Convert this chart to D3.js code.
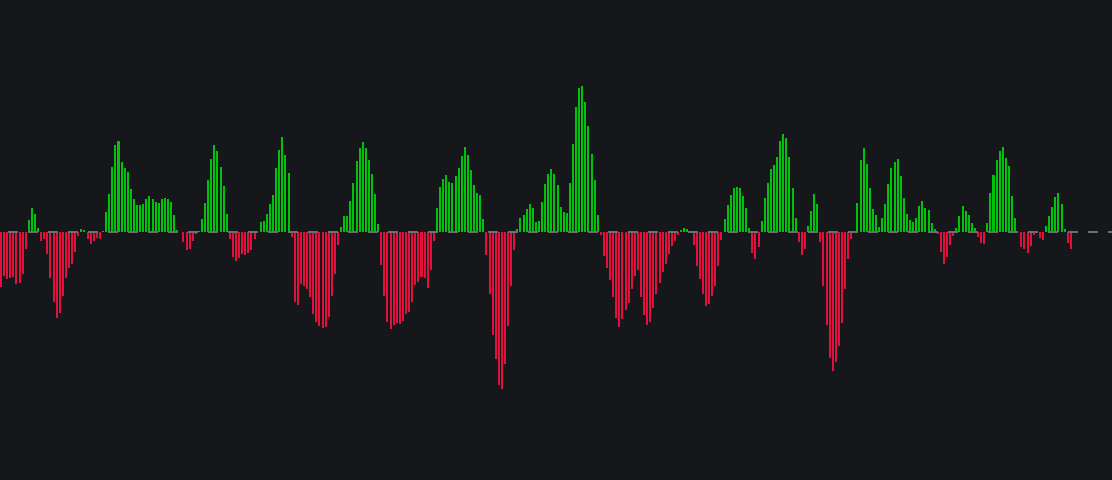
<!DOCTYPE html>
<html>
<head>
<meta charset="utf-8">
<script src="https://cdn.jsdelivr.net/npm/d3@7"></script>
<style>
html,body{margin:0;padding:0;background:#16171b;overflow:hidden;}
svg{display:block;}
</style>
</head>
<body>
<svg id="chart" width="1112" height="480"></svg>
<script>
// Histogram values (one per bar, in chronological order)
const histValues = [
 -54.7,-44,-46.7,-45.7,-44.7,-51.7,-50.7,-41.7,-16.7,12,
 24,18,4,-9,-6.7,-21.7,-45.7,-69.7,-85.7,-80.7,
 -63.7,-45.7,-35.7,-31.7,-19.7,-3.7,3,2,-6.7,-11.7,
 -8.7,-5.7,-6.7,1,20,38,65,87,91,70,
 64,60,43,33,27,27,28,33,36,33,
 30,29,33,34,33,30,17,2,0.3,-9.7,
 -17.7,-16.7,-8.7,-1.7,1,13,29,52,73,87,
 81,65,46,18,-6.7,-24.7,-28.7,-25.7,-21.7,-22.7,
 -20.7,-17.7,-6.7,0.3,10,11,18,28,37,64,
 82,95,77,59,-4.7,-69.7,-72.7,-51.7,-53.7,-56.7,
 -64.7,-81.7,-89.7,-93.7,-95.7,-94.7,-84.7,-63.7,-41.7,-12.7,
 5,16,16,31,49,71,84,90,84,72,
 58,38,8,-32.7,-63.7,-89.7,-96.7,-92.7,-90.7,-91.7,
 -88.7,-81.7,-79.7,-69.7,-52.7,-49.7,-44.7,-45.7,-55.7,-37.7,
 -8.7,24,45,53,57,50,49,56,64,76,
 85,77,62,47,39,37,13,-22.7,-61.7,-102.7,
 -126.7,-152.7,-156.7,-131.7,-93.7,-53.7,-17.7,3,14,17,
 23,28,24,10,11,30,48,58,63,58,
 47,25,20,19,49,88,125,144,146,130,
 106,78,52,17,-3,-23.7,-35.7,-47.7,-64.7,-85.7,
 -94.7,-86.7,-77.7,-70.7,-56.7,-43.7,-37.7,-64.7,-82.7,-92.7,
 -89.7,-75.7,-61.7,-50.7,-39.7,-31.7,-21.7,-13.7,-8.7,-2.7,
 2,4,3,0.3,-12.7,-33.7,-46.7,-61.7,-73.7,-71.7,
 -63.7,-53.7,-33.7,-7.7,13,27,37,44,45,44,
 36,24,4,-20.7,-26.7,-14.7,11,34,49,63,
 67,75,91,98,94,75,44,14,-9.7,-22.7,
 -16.7,6,21,38,28,-9.7,-53.7,-92.7,-125.7,-138.7,
 -129.7,-113.7,-90.7,-56.7,-26.7,-6.7,-1,29,72,84,
 68,44,23,17,5,14,28,48,64,70,
 73,56,34,18,12,10,14,26,31,24,
 22,9,3,-1.7,-19.7,-31.7,-24.7,-12.7,-3.7,4,
 16,26,21,17,9,4,-4.7,-10.7,-11.7,9,
 39,57,72,81,85,74,66,36,14,0.3,
 -14.7,-16.7,-20.7,-13.7,-2.7,-1,-5.7,-7.7,6,16,
 25,35,39,28,3,-10.7,-16.7
];
const totalSlots = 360; // bar slots across the visible time range (includes right offset)

const W = 1112, H = 480;
const svg = d3.select("#chart");

svg.append("rect").attr("width", W).attr("height", H).attr("fill", "#16171b");

const x = d3.scaleBand()
  .domain(d3.range(totalSlots))
  .range([0, W])
  .paddingInner(0.35)
  .paddingOuter(0)
  .align(0);

const y = d3.scaleLinear()
  .domain([-248, 232])
  .range([H, 0]);

svg.append("g")
  .selectAll("rect")
  .data(histValues)
  .join("rect")
  .attr("x", (d, i) => x(i))
  .attr("width", x.bandwidth())
  .attr("y", d => d >= 0 ? y(d) : y(0))
  .attr("height", d => Math.abs(y(d) - y(0)))
  .attr("fill", d => d >= 0 ? "#00c20a" : "#e3103f")
  .attr("shape-rendering", "crispEdges");

svg.append("line")
  .attr("x1", 0).attr("x2", W)
  .attr("y1", y(0)).attr("y2", y(0))
  .attr("stroke", "#6c6f77")
  .attr("stroke-width", 2)
  .attr("stroke-dasharray", "10,10")
  .attr("stroke-dashoffset", 12)
  .attr("shape-rendering", "crispEdges");
</script>
</body>
</html>
